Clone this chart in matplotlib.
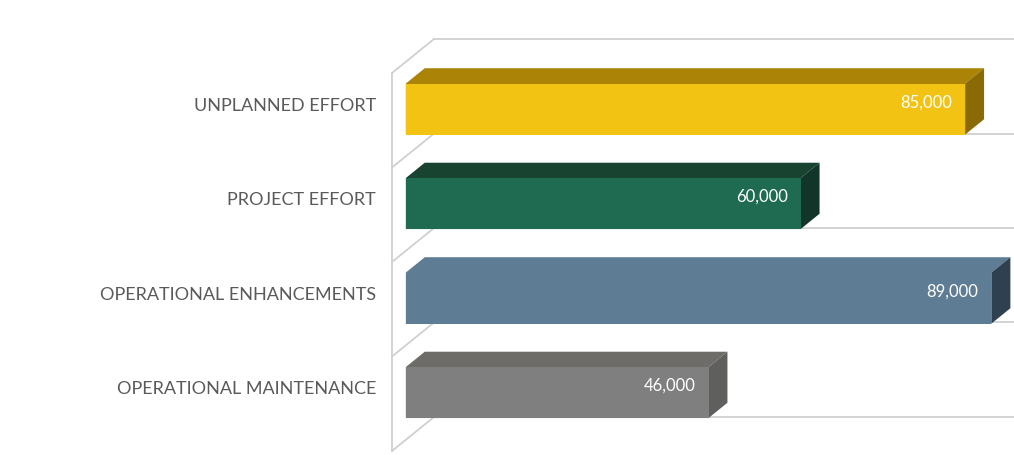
import matplotlib
matplotlib.use('Agg')
import matplotlib.pyplot as plt
from matplotlib.patches import Polygon

# data, top to bottom as shown
categories = ['UNPLANNED EFFORT', 'PROJECT EFFORT',
              'OPERATIONAL ENHANCEMENTS', 'OPERATIONAL MAINTENANCE']
values = [85000, 60000, 89000, 46000]

front_colors = ['#F2C313', '#1F6B52', '#5E7D95', '#7F7F7F']
top_colors = ['#AB8306', '#184331', '#5E7D95', '#6E6C68']
side_colors = ['#8A6A04', '#12352A', '#2F4150', '#5F5F5D']
grid_color = '#D0D0D0'
text_color = '#5A5A5A'

# fake 3d geometry (pixels)
W, H = 1014, 456
PX_PER_VAL = 0.00658
CAT_PX = 94.5
X0_PX, Y0_PX = 392, 74
DEPTH_PX = (42, -34)
T_FRONT, T_BACK = 0.33, 0.78
BAR_H = 0.54

fig = plt.figure(figsize=(W / 100, H / 100), dpi=100)
ax = fig.add_axes([0, 0, 1, 1])
x_right = (W - X0_PX) / PX_PER_VAL
ax.set_xlim(-X0_PX / PX_PER_VAL, x_right)
ax.set_ylim((H - Y0_PX) / CAT_PX, -Y0_PX / CAT_PX)
ax.axis('off')

DX = DEPTH_PX[0] / PX_PER_VAL
DY = DEPTH_PX[1] / CAT_PX


def proj(v, c, t):
  return v + DX * t, c + DY * t


n = len(categories)
# side wall + back wall gridlines
ax.plot([0, 0], [0, n], color=grid_color, lw=1.3, zorder=1)
for k in range(n + 1):
  fx, fy = proj(0, k, 0)
  bx, by = proj(0, k, 1)
  ax.plot([fx, bx], [fy, by], color=grid_color, lw=1.3, zorder=1)
  ax.plot([bx, x_right], [by, by], color=grid_color, lw=1.3, zorder=1)

for i, (cat, v) in enumerate(zip(categories, values)):
  c = i + 0.5
  top, bot = c - BAR_H / 2, c + BAR_H / 2
  front = [proj(0, top, T_FRONT), proj(v, top, T_FRONT),
           proj(v, bot, T_FRONT), proj(0, bot, T_FRONT)]
  # top face drawn down to the front bottom so no seam shows
  topf = [proj(0, bot, T_FRONT), proj(0, top, T_FRONT),
          proj(0, top, T_BACK), proj(v, top, T_BACK),
          proj(v, top, T_FRONT), proj(v, bot, T_FRONT)]
  side = [proj(v, top, T_FRONT), proj(v, top, T_BACK),
          proj(v, bot, T_BACK), proj(v, bot, T_FRONT)]
  for pts, col, z in ((topf, top_colors[i], 3), (side, side_colors[i], 3.1),
                      (front, front_colors[i], 3.2)):
    ax.add_patch(Polygon(pts, closed=True, facecolor=col, edgecolor='none',
                         zorder=z))
  t_mid = (T_FRONT + T_BACK) / 2
  ax.annotate(f'{v:,}', xy=(v + DX * T_FRONT, c + DY * t_mid),
              xytext=(-13, 0), textcoords='offset pixels',
              ha='right', va='center', color='white',
              fontsize=12, family='Lato', zorder=4)
  ax.annotate(cat, xy=(0, c + DY * 0.45), xytext=(-16, 0),
              textcoords='offset pixels', ha='right', va='center',
              color=text_color, fontsize=13, family='Lato')

fig.savefig('out.png', dpi=100)
